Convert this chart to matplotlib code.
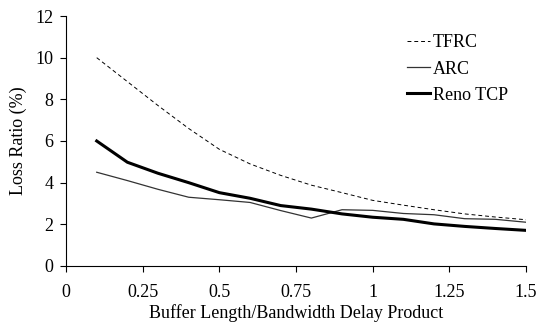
import numpy as np
import matplotlib.pyplot as plt

plt.rcParams['font.family'] = ['Liberation Serif', 'DejaVu Serif']
plt.rcParams['font.size'] = 13

# buffer length / BDP
x = [0.1, 0.2, 0.3, 0.4, 0.5, 0.6, 0.7, 0.8, 0.9, 1.0, 1.1, 1.2, 1.3, 1.4, 1.5]

tfrc = [10.0, 8.85, 7.7, 6.6, 5.6, 4.9, 4.35, 3.88, 3.52, 3.15, 2.92, 2.7, 2.5, 2.35, 2.22]
arc = [4.5, 4.1, 3.68, 3.3, 3.18, 3.05, 2.66, 2.3, 2.7, 2.67, 2.52, 2.46, 2.27, 2.24, 2.1]
reno = [6.0, 4.98, 4.45, 4.0, 3.52, 3.25, 2.9, 2.73, 2.5, 2.34, 2.24, 2.02, 1.9, 1.8, 1.71]

fig = plt.figure(figsize=(5.37, 3.30), dpi=100)
ax = fig.add_axes([0.123, 0.194, 0.8565, 0.7575])

ax.plot(x, tfrc, color='black', linestyle=(0, (4, 3)), linewidth=0.7, label='TFRC')
ax.plot(x, arc, color='#333333', linewidth=0.9, label='ARC')
ax.plot(x, reno, color='black', linewidth=2.2, label='Reno TCP')

ax.set_xlim(0, 1.5)
ax.set_ylim(0, 12)
ax.set_xticks([0, 0.25, 0.5, 0.75, 1, 1.25, 1.5])
ax.set_xticklabels(['0', '0.25', '0.5', '0.75', '1', '1.25', '1.5'])
ax.set_yticks(range(0, 13, 2))

ax.spines['top'].set_visible(False)
ax.spines['right'].set_visible(False)
ax.tick_params(direction='out', length=4, width=0.8)
ax.tick_params(axis='y', pad=5)
ax.tick_params(axis='x', pad=9)

ax.set_xlabel('Buffer Length/Bandwidth Delay Product', labelpad=2)
ax.set_ylabel('Loss Ratio (%)', labelpad=6)

ax.legend(loc='upper left', bbox_to_anchor=(0.725, 0.955), frameon=False,
          handlelength=1.3, handletextpad=0.15, labelspacing=0.5,
          borderaxespad=0)

fig.savefig('out.png', dpi=100)
